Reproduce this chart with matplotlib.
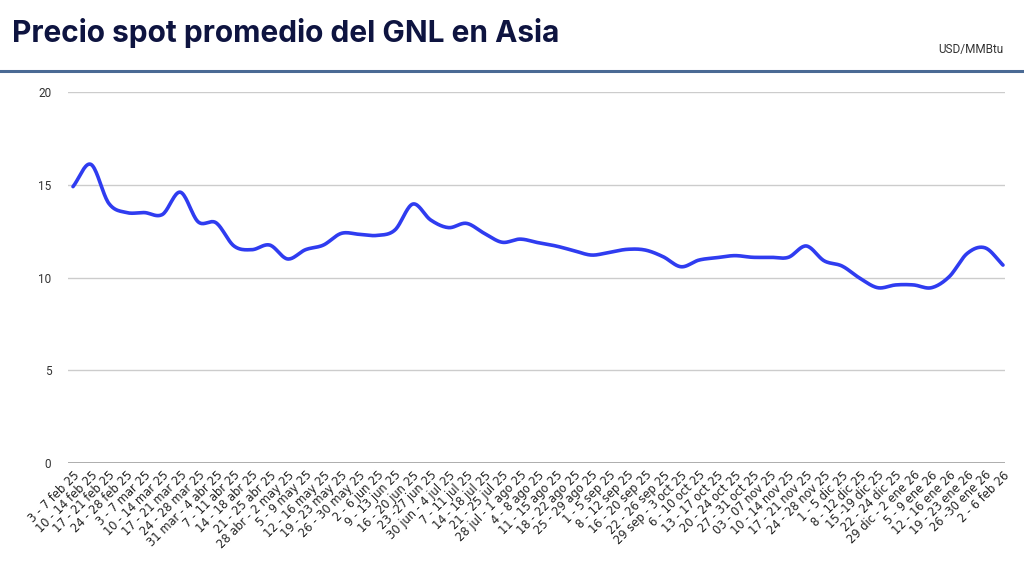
import numpy as np
import matplotlib.pyplot as plt

weeks = [
    "3 - 7 feb 25", "10 - 14 feb 25", "17 - 21 feb 25", "24 - 28 feb 25",
    "3 - 7 mar 25", "10 - 14 mar 25", "17 - 21 mar 25", "24 - 28 mar 25",
    "31 mar - 4 abr 25", "7 - 11 abr 25", "14 - 18 abr 25", "21 - 25 abr 25",
    "28 abr - 2 may 25", "5 - 9 may 25", "12 - 16 may 25", "19 - 23 may 25",
    "26 - 30 may 25", "2 - 6 jun 25", "9 - 13 jun 25", "16 - 20 jun 25",
    "23 -27 jun 25", "30 jun - 4 jul 25", "7 - 11 jul 25", "14 - 18 jul 25",
    "21 - 25 jul 25", "28 jul - 1 ago 25", "4 - 8 ago 25", "11 - 15 ago 25",
    "18 - 22 ago 25", "25 - 29 ago 25", "1 - 5 sep 25", "8 - 12 sep 25",
    "16 - 20 sep 25", "22 - 26 sep 25", "29 sep - 3 oct 25", "6 - 10 oct 25",
    "13 - 17 oct 25", "20 - 24 oct 25", "27 - 31 oct 25", "03 - 07 nov 25",
    "10 - 14 nov 25", "17 - 21 nov 25", "24 - 28 nov 25", "1 - 5 dic 25",
    "8 - 12 dic 25", "15 -19 dic 25", "22 - 24 dic 25", "29 dic - 2 ene 26",
    "5 - 9 ene 26", "12 - 16 ene 26", "19 - 23 ene 26", "26 -30 ene 26",
    "2 - 6 feb 26",
]

# USD/MMBtu
price = [
    14.9, 16.1, 14.0, 13.5, 13.5, 13.4, 14.6, 13.0, 12.95, 11.7,
    11.5, 11.75, 11.0, 11.5, 11.75, 12.38, 12.33, 12.27, 12.56, 13.96,
    13.1, 12.69, 12.92, 12.38, 11.9, 12.07, 11.88, 11.7, 11.45, 11.21,
    11.36, 11.52, 11.48, 11.12, 10.58, 10.94, 11.07, 11.18, 11.09, 11.09,
    11.09, 11.7, 10.9, 10.62, 9.96, 9.45, 9.6, 9.6, 9.45, 10.05,
    11.3, 11.6, 10.67,
]


def smooth(x, y, n=20):
    # catmull-rom curve through the points, only for drawing
    x = np.asarray(x, float)
    y = np.asarray(y, float)
    px = np.concatenate([[2 * x[0] - x[1]], x, [2 * x[-1] - x[-2]]])
    py = np.concatenate([[2 * y[0] - y[1]], y, [2 * y[-1] - y[-2]]])
    xs, ys = [], []
    t = np.linspace(0, 1, n, endpoint=False)
    for i in range(1, len(px) - 2):
        for p, out in ((px, xs), (py, ys)):
            p0, p1, p2, p3 = p[i - 1], p[i], p[i + 1], p[i + 2]
            out.extend(0.5 * (2 * p1 + (-p0 + p2) * t
                              + (2 * p0 - 5 * p1 + 4 * p2 - p3) * t ** 2
                              + (-p0 + 3 * p1 - 3 * p2 + p3) * t ** 3))
    xs.append(x[-1])
    ys.append(y[-1])
    return np.array(xs), np.array(ys)


plt.rcParams['font.family'] = ['DejaVu Sans']

fig = plt.figure(figsize=(10.24, 5.67), dpi=100)
fig.text(0.012, 0.942, "Precio spot promedio del GNL en Asia", fontsize=21.5,
         fontweight='bold', color='#0e1440', family=['Inter', 'DejaVu Sans'],
         va='center', ha='left')
fig.text(0.98, 0.912, "USD/MMBtu", fontsize=8.5, color='#333333',
         family=['Roboto', 'DejaVu Sans'], ha='right', va='center')
fig.add_artist(plt.Line2D([0, 1], [0.875, 0.875], color='#4a6a94', lw=2.2,
                          transform=fig.transFigure))

ax = fig.add_axes([0.0664, 0.1834, 0.915, 0.6543])
x = np.arange(len(weeks))
sx, sy = smooth(x, price)
ax.plot(sx, sy, color='#2f3cf0', lw=2.6, solid_capstyle='round')

ax.set_xlim(-0.28, len(weeks) - 1 + 0.11)
ax.set_ylim(0, 20)
ax.set_yticks([0, 5, 10, 15, 20])
ax.set_yticklabels(["0", "5", "10", "15", "20"], family=['Roboto', 'DejaVu Sans'])
ax.grid(axis='y', color='#cccccc', lw=1)
ax.axhline(0, color='#999999', lw=1.8, zorder=3)
ax.set_xticks(x)
ax.set_xticklabels(weeks, rotation=45, ha='right', rotation_mode='anchor',
                   fontsize=8.3, color='#222222')
ax.tick_params(axis='x', length=0, pad=4)
ax.tick_params(axis='y', length=0, pad=12, labelsize=8.5, labelcolor='#333333')
for s in ax.spines.values():
    s.set_visible(False)

fig.savefig("out.png", dpi=100)
